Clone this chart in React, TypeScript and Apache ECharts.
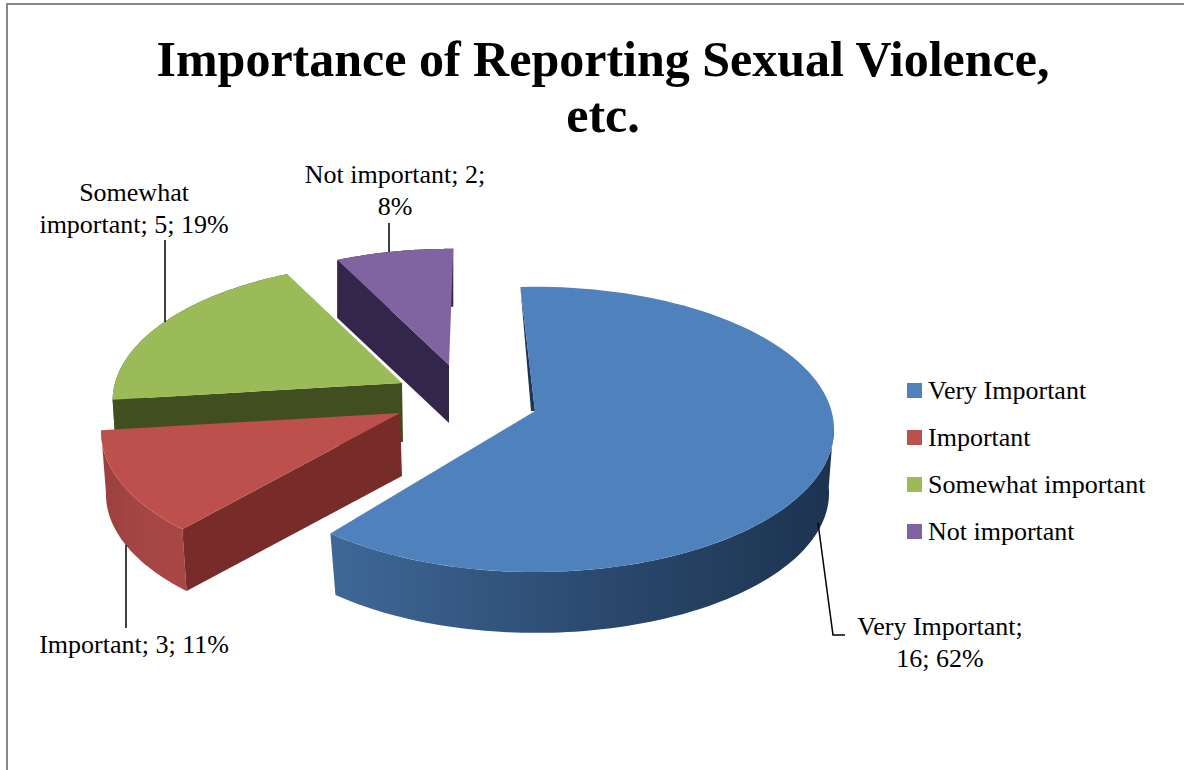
import React, { useEffect, useRef } from "react";
import * as echarts from "echarts";

const TITLE = "Importance of Reporting Sexual Violence,\netc.";
const categories = ["Very Important", "Important", "Somewhat important", "Not important"];
const values = [16, 3, 5, 2];
const percents = [62, 11, 19, 8];
const FONT = "Liberation Serif";

const topColors = ["#4f81bd", "#bd504d", "#9bbb59", "#8064a2"];
const wallColors = ["#1e3653", "#772c2a", "#414e20", "#33264a"];
const arcStops = [
  ["#3f6898", "#2c4b70", "#1c3350"],
  ["#a84744", "#a54644", "#9a403e"],
  ["#414e20", "#414e20", "#414e20"],
  ["#33264a", "#33264a", "#33264a"],
];

// Projection layout of every exploded slice (not data)
const PERSP = 0.129;
const RX = 298;
const RY = 141;
const layouts = [
  { ax: 535, ay: 411, scale: 0.995, depth: 64, botScale: 0.98, botDx: 1, shiftA: -3.2, shiftB: -3.2, sliver: 4 },
  { ax: 400, ay: 413, scale: 0.995, depth: 63, botScale: 0.99, botDx: 2, shiftA: 0, shiftB: 0, sliver: 0 },
  { ax: 402, ay: 383, scale: 0.963, depth: 59, botScale: 0.99, botDx: 1, shiftA: 0, shiftB: 1.2, sliver: 0 },
  { ax: 449, ay: 365, scale: 0.93, depth: 58, botScale: 1, botDx: 0, shiftA: 1, shiftB: 1, sliver: 0 },
];
const labelBlocks = [
  { text: `${categories[0]};\n${values[0]}; ${percents[0]}%`, x: 940, y: 642 },
  { text: `${categories[1]}; ${values[1]}; ${percents[1]}%`, x: 134, y: 644 },
  { text: `Somewhat\nimportant; ${values[2]}; ${percents[2]}%`, x: 134, y: 208 },
  { text: `${categories[3]}; ${values[3]};\n${percents[3]}%`, x: 395, y: 190 },
];
const leaders = [
  [[818, 523], [833, 635], [845, 635]],
  [[126, 545], [126, 628]],
  [[165, 240], [165, 322]],
  [[389, 223], [389, 252]],
];

const total = values.reduce((a, b) => a + b, 0);
const proj = (l: any, deg: number, scale = 1, dz = 0, dx = 0) => {
  const r = (deg * Math.PI) / 180;
  const t = 1 / (1 + PERSP * Math.cos(r));
  return [
    l.ax + dx + RX * l.scale * scale * Math.sin(r) * t,
    l.ay + dz - RY * l.scale * scale * Math.cos(r) * t,
  ];
};

const makeRender = (idx: number) => (params: any, api: any) => {
  const before = values.slice(0, idx).reduce((a, b) => a + b, 0);
  const l = layouts[idx];
  const a0 = (before / total) * 360 + l.shiftA;
  const a1 = ((before + api.value(0)) / total) * 360 + l.shiftB;
  const N = 96;
  const topArc: number[][] = [];
  for (let i = 0; i <= N; i++) topArc.push(proj(l, a0 + ((a1 - a0) * i) / N));
  const v0 = Math.max(a0, 95);
  const front: number[][] = [];
  const back: number[][] = [];
  for (let i = 0; i <= N; i++) {
    const a = v0 + ((a1 - v0) * i) / N;
    front.push(proj(l, a));
    back.unshift(proj(l, a, l.botScale, l.depth, l.botDx));
  }
  const apex = [l.ax, l.ay];
  const apexB = [l.ax + l.botDx, l.ay + l.depth];
  const rim0 = proj(l, a0);
  const rim0B = proj(l, a0, l.botScale, l.depth, l.botDx);
  const children: any[] = [];
  if (a1 > 95) {
    const s = arcStops[idx];
    children.push({
      type: "polygon",
      shape: { points: front.concat(back) },
      style: {
        fill: new echarts.graphic.LinearGradient(0, 0, 1, 0, [
          { offset: 0, color: idx === 1 ? s[2] : s[0] },
          { offset: 0.5, color: s[1] },
          { offset: 1, color: idx === 1 ? s[0] : s[2] },
        ]),
      },
    });
  }
  if (l.sliver) {
    children.push({
      type: "polygon",
      shape: { points: [rim0, apex, [l.ax - l.sliver, l.ay]] },
      style: { fill: wallColors[idx] },
    });
  } else {
    children.push({
      type: "polygon",
      shape: { points: [rim0, apex, apexB, rim0B] },
      style: { fill: wallColors[idx] },
    });
  }
  children.push({
    type: "polygon",
    shape: { points: [apex, ...topArc] },
    style: { fill: topColors[idx] },
  });
  return { type: "group", children };
};

export default function App() {
  const ref = useRef<HTMLDivElement>(null);
  useEffect(() => {
    const chart = echarts.init(ref.current!, null, { renderer: "svg" });
    const textStyle = { fontFamily: FONT, fontSize: 26, fill: "#000", textAlign: "center", textVerticalAlign: "middle", lineHeight: 32 };
    chart.setOption({
      animation: false,
      backgroundColor: "#fff",
      title: {
        text: TITLE,
        left: 598,
        top: 26,
        textAlign: "center",
        textStyle: { fontFamily: FONT, fontWeight: "bold", fontSize: 50, lineHeight: 56, color: "#000" },
      },
      legend: {
        data: categories,
        orient: "vertical",
        left: 902,
        top: 372,
        itemWidth: 15,
        itemHeight: 15,
        itemGap: 20,
        icon: "rect",
        selectedMode: false,
        textStyle: { fontFamily: FONT, fontSize: 26, color: "#000", padding: [0, 0, 0, 1], lineHeight: 27 },
      },
      series: categories.map((name, i) => ({
        type: "custom",
        name,
        coordinateSystem: "none",
        silent: true,
        z: 4 - i === 4 ? 8 : 4 - i + 2,
        itemStyle: { color: topColors[i] },
        data: [[values[i]]],
        renderItem: makeRender(i),
      })),
      graphic: [
        {
          type: "polyline",
          silent: true,
          shape: { points: [[7, 770], [7, 4], [1184, 4]] },
          style: { stroke: "#868686", lineWidth: 2, fill: "none" },
        },
        ...leaders.map((points) => ({
          type: "polyline",
          silent: true,
          z: 20,
          shape: { points },
          style: { stroke: "#000", lineWidth: 1.5, fill: "none" },
        })),
        ...labelBlocks.map((b) => ({
          type: "text",
          silent: true,
          x: b.x,
          y: b.y,
          style: { ...textStyle, text: b.text },
        })),
      ],
    });
    return () => chart.dispose();
  }, []);
  return <div ref={ref} style={{ position: "absolute", left: 0, top: 0, width: 1184, height: 770 }} />;
}
